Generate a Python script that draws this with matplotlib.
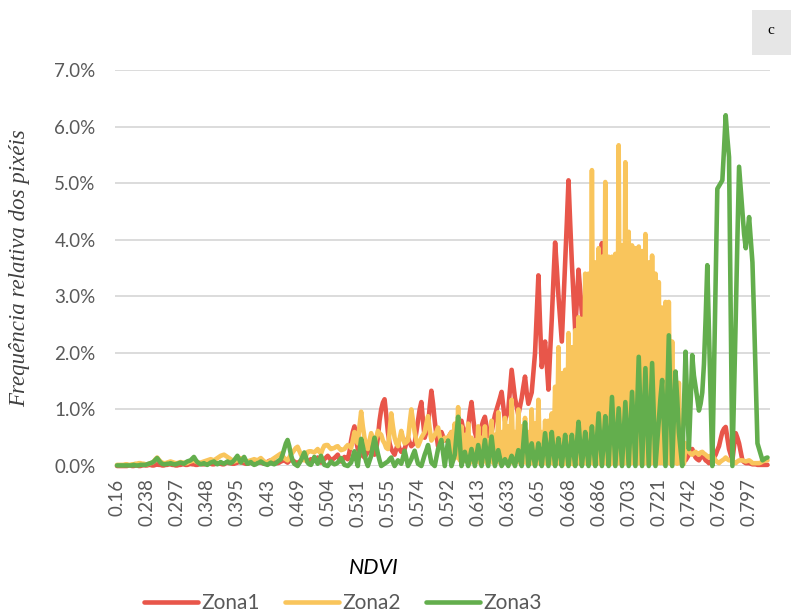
import matplotlib
matplotlib.use("Agg")
import matplotlib.pyplot as plt
from matplotlib.ticker import FuncFormatter
from matplotlib.patches import Rectangle

# NDVI category labels shown on the axis (one every 18 categories)
ndvi_ticks = ["0.16", "0.238", "0.297", "0.348", "0.395", "0.43", "0.469", "0.504",
              "0.531", "0.555", "0.574", "0.592", "0.613", "0.633", "0.65", "0.668",
              "0.686", "0.703", "0.721", "0.742", "0.766", "0.797"]
tick_step = 18

# relative pixel frequency (%) per NDVI category
zona1 = [
    0.00, 0.00, 0.00, 0.00, 0.00, 0.00, 0.00, 0.01, 0.01, 0.00, 0.00, 0.01, 0.01, 0.00, 0.00, 0.01, 0.02, 0.01, 0.01, 0.02,
    0.02, 0.01, 0.01, 0.02, 0.03, 0.02, 0.02, 0.01, 0.01, 0.02, 0.02, 0.03, 0.03, 0.02, 0.02, 0.01, 0.01, 0.02, 0.02, 0.03,
    0.03, 0.02, 0.02, 0.03, 0.04, 0.03, 0.03, 0.02, 0.02, 0.03, 0.04, 0.03, 0.03, 0.04, 0.05, 0.04, 0.04, 0.03, 0.03, 0.04,
    0.05, 0.04, 0.04, 0.03, 0.03, 0.05, 0.06, 0.05, 0.05, 0.04, 0.04, 0.05, 0.06, 0.07, 0.08, 0.06, 0.05, 0.04, 0.04, 0.05,
    0.06, 0.05, 0.05, 0.06, 0.08, 0.07, 0.06, 0.05, 0.04, 0.05, 0.07, 0.09, 0.10, 0.08, 0.06, 0.05, 0.05, 0.06, 0.08, 0.09,
    0.10, 0.08, 0.06, 0.09, 0.12, 0.10, 0.08, 0.06, 0.05, 0.07, 0.10, 0.12, 0.14, 0.10, 0.08, 0.10, 0.12, 0.11, 0.10, 0.12,
    0.15, 0.10, 0.06, 0.09, 0.12, 0.15, 0.18, 0.14, 0.10, 0.12, 0.14, 0.17, 0.20, 0.12, 0.08, 0.12, 0.16, 0.14, 0.12, 0.25,
    0.45, 0.60, 0.70, 0.45, 0.30, 0.25, 0.20, 0.18, 0.15, 0.20, 0.25, 0.30, 0.35, 0.25, 0.20, 0.30, 0.50, 0.80, 1.00, 1.12,
    1.18, 0.90, 0.60, 0.40, 0.30, 0.25, 0.20, 0.30, 0.40, 0.30, 0.25, 0.28, 0.30, 0.40, 0.50, 0.42, 0.35, 0.38, 0.40, 0.60,
    0.80, 1.00, 1.13, 0.80, 0.50, 0.60, 0.70, 1.05, 1.33, 1.10, 0.80, 0.55, 0.35, 0.45, 0.60, 0.52, 0.45, 0.48, 0.50, 0.55,
    0.60, 0.55, 0.50, 0.60, 0.70, 0.75, 0.80, 0.65, 0.50, 0.60, 0.70, 0.95, 1.13, 0.85, 0.60, 0.50, 0.40, 0.55, 0.70, 0.80,
    0.87, 0.70, 0.50, 0.55, 0.60, 0.75, 0.90, 1.00, 1.10, 1.20, 1.31, 1.05, 0.80, 0.90, 1.00, 1.35, 1.70, 1.45, 1.20, 1.05,
    0.90, 1.05, 1.20, 1.40, 1.58, 1.30, 1.10, 1.20, 1.30, 1.65, 2.00, 2.70, 3.37, 2.50, 1.75, 2.00, 2.20, 1.80, 1.35, 2.00,
    2.60, 3.30, 3.95, 3.50, 3.00, 2.60, 2.20, 2.90, 3.60, 4.30, 5.05, 4.30, 3.60, 3.00, 2.40, 2.90, 3.47, 3.10, 2.70, 2.55,
    2.40, 2.30, 2.20, 2.40, 2.60, 2.80, 3.00, 3.25, 3.50, 3.70, 3.94, 3.50, 3.00, 2.75, 2.50, 2.65, 2.80, 2.70, 2.60, 2.45,
    2.30, 2.15, 2.00, 2.10, 2.20, 2.00, 1.80, 1.70, 1.60, 1.55, 1.50, 1.40, 1.30, 1.25, 1.20, 1.10, 1.00, 0.95, 0.90, 0.75,
    0.60, 0.50, 0.40, 0.35, 0.30, 0.25, 0.20, 0.22, 0.25, 0.20, 0.15, 0.18, 0.20, 0.15, 0.10, 0.18, 0.25, 0.20, 0.15, 0.12,
    0.10, 0.15, 0.20, 0.25, 0.30, 0.22, 0.15, 0.12, 0.10, 0.15, 0.20, 0.15, 0.10, 0.08, 0.05, 0.08, 0.10, 0.15, 0.20, 0.28,
    0.35, 0.48, 0.60, 0.66, 0.69, 0.50, 0.30, 0.20, 0.10, 0.35, 0.58, 0.50, 0.40, 0.25, 0.10, 0.07, 0.05, 0.05, 0.05, 0.04,
    0.03, 0.03, 0.03, 0.02, 0.02, 0.02, 0.02, 0.02, 0.02, 0.02,
]
zona2 = [
    0.02, 0.02, 0.02, 0.02, 0.02, 0.03, 0.03, 0.02, 0.02, 0.03, 0.03, 0.04, 0.04, 0.05, 0.05, 0.04, 0.04, 0.03, 0.03, 0.04,
    0.05, 0.06, 0.08, 0.12, 0.15, 0.11, 0.08, 0.06, 0.05, 0.05, 0.06, 0.07, 0.08, 0.07, 0.06, 0.05, 0.05, 0.06, 0.07, 0.06,
    0.06, 0.05, 0.05, 0.07, 0.08, 0.09, 0.10, 0.08, 0.07, 0.06, 0.06, 0.07, 0.08, 0.09, 0.10, 0.11, 0.12, 0.11, 0.10, 0.12,
    0.14, 0.16, 0.18, 0.19, 0.20, 0.18, 0.16, 0.14, 0.12, 0.10, 0.08, 0.09, 0.10, 0.12, 0.14, 0.12, 0.10, 0.09, 0.08, 0.09,
    0.10, 0.11, 0.12, 0.11, 0.10, 0.12, 0.14, 0.11, 0.08, 0.07, 0.06, 0.08, 0.10, 0.12, 0.14, 0.16, 0.18, 0.20, 0.22, 0.18,
    0.14, 0.12, 0.10, 0.15, 0.20, 0.24, 0.28, 0.32, 0.34, 0.27, 0.20, 0.14, 0.10, 0.18, 0.25, 0.26, 0.26, 0.25, 0.24, 0.27,
    0.30, 0.25, 0.22, 0.30, 0.36, 0.37, 0.37, 0.33, 0.30, 0.31, 0.32, 0.34, 0.35, 0.31, 0.28, 0.29, 0.30, 0.34, 0.37, 0.35,
    0.32, 0.45, 0.60, 0.45, 0.40, 0.70, 0.96, 0.70, 0.50, 0.35, 0.30, 0.45, 0.58, 0.45, 0.40, 0.50, 0.62, 0.58, 0.55, 0.45,
    0.40, 0.32, 0.30, 0.60, 0.93, 0.70, 0.50, 0.40, 0.35, 0.48, 0.62, 0.50, 0.40, 0.42, 0.45, 0.75, 1.00, 0.80, 0.60, 0.45,
    0.35, 0.42, 0.50, 0.55, 0.60, 0.75, 0.88, 0.65, 0.45, 0.50, 0.55, 0.60, 0.68, 0.52, 0.40, 0.45, 0.50, 0.48, 0.50, 0.55,
    0.60, 0.10, 0.75, 0.15, 1.04, 0.10, 0.70, 0.08, 0.55, 0.12, 0.75, 0.05, 0.50, 0.10, 0.45, 0.08, 0.70, 0.05, 0.50, 0.10,
    0.70, 0.05, 0.45, 0.10, 0.80, 0.05, 0.55, 0.08, 0.95, 0.05, 0.60, 0.10, 0.85, 0.05, 0.70, 0.06, 1.17, 0.05, 0.60, 0.08,
    1.00, 0.05, 0.70, 0.06, 0.85, 0.05, 0.60, 0.04, 1.00, 0.05, 0.75, 0.06, 1.17, 0.04, 0.60, 0.05, 0.80, 0.04, 0.80, 0.05,
    0.93, 0.04, 1.40, 0.05, 2.10, 0.04, 1.64, 0.03, 1.70, 0.05, 2.35, 0.04, 2.10, 0.03, 2.40, 0.05, 2.63, 0.04, 2.60, 0.05,
    3.40, 0.04, 3.40, 0.05, 5.23, 0.04, 3.60, 0.05, 3.85, 0.04, 3.70, 0.05, 5.02, 0.04, 3.70, 0.03, 3.70, 0.05, 3.75, 0.04,
    5.67, 0.05, 3.90, 0.04, 5.37, 0.05, 4.14, 0.04, 3.90, 0.05, 3.85, 0.04, 3.88, 0.05, 3.80, 0.04, 4.10, 0.05, 3.60, 0.04,
    3.72, 0.05, 3.40, 0.04, 3.25, 0.05, 2.80, 0.04, 2.90, 0.05, 2.90, 0.04, 2.20, 0.05, 1.60, 0.04, 1.47, 0.05, 0.80, 0.04,
    0.40, 0.30, 0.25, 0.22, 0.20, 0.23, 0.25, 0.22, 0.20, 0.24, 0.25, 0.22, 0.20, 0.17, 0.15, 0.18, 0.20, 0.14, 0.10, 0.07,
    0.05, 0.08, 0.10, 0.12, 0.15, 0.12, 0.10, 0.10, 0.10, 0.07, 0.05, 0.08, 0.10, 0.10, 0.10, 0.09, 0.08, 0.09, 0.10, 0.08,
    0.05, 0.05, 0.05, 0.05, 0.05, 0.06, 0.08, 0.09, 0.10, 0.10,
]
zona3 = [
    0.01, 0.01, 0.01, 0.01, 0.01, 0.01, 0.01, 0.01, 0.01, 0.01, 0.02, 0.01, 0.01, 0.01, 0.02, 0.02, 0.02, 0.02, 0.03, 0.04,
    0.05, 0.06, 0.08, 0.11, 0.14, 0.10, 0.06, 0.04, 0.03, 0.03, 0.04, 0.04, 0.05, 0.04, 0.03, 0.03, 0.04, 0.05, 0.06, 0.05,
    0.04, 0.06, 0.08, 0.09, 0.10, 0.13, 0.16, 0.11, 0.07, 0.05, 0.03, 0.04, 0.05, 0.03, 0.02, 0.04, 0.06, 0.07, 0.08, 0.05,
    0.03, 0.05, 0.07, 0.05, 0.04, 0.06, 0.08, 0.06, 0.05, 0.07, 0.10, 0.14, 0.18, 0.12, 0.06, 0.11, 0.16, 0.10, 0.04, 0.05,
    0.07, 0.04, 0.02, 0.03, 0.05, 0.06, 0.08, 0.06, 0.04, 0.03, 0.02, 0.04, 0.06, 0.04, 0.03, 0.05, 0.08, 0.10, 0.12, 0.20,
    0.30, 0.40, 0.46, 0.35, 0.20, 0.10, 0.04, 0.02, 0.00, 0.05, 0.10, 0.17, 0.24, 0.15, 0.06, 0.03, 0.02, 0.08, 0.16, 0.10,
    0.04, 0.10, 0.18, 0.10, 0.02, 0.01, 0.00, 0.04, 0.08, 0.05, 0.03, 0.04, 0.06, 0.10, 0.14, 0.08, 0.02, 0.01, 0.00, 0.03,
    0.06, 0.16, 0.26, 0.12, 0.00, 0.25, 0.48, 0.35, 0.20, 0.08, 0.00, 0.09, 0.18, 0.35, 0.50, 0.36, 0.22, 0.10, 0.00, 0.02,
    0.04, 0.06, 0.08, 0.12, 0.15, 0.07, 0.00, 0.05, 0.10, 0.07, 0.04, 0.15, 0.27, 0.14, 0.00, 0.06, 0.12, 0.20, 0.27, 0.15,
    0.04, 0.02, 0.00, 0.10, 0.20, 0.28, 0.37, 0.22, 0.06, 0.03, 0.00, 0.15, 0.30, 0.38, 0.46, 0.23, 0.00, 0.22, 0.45, 0.22,
    0.00, 0.10, 0.20, 0.55, 0.87, 0.43, 0.00, 0.12, 0.25, 0.12, 0.00, 0.15, 0.30, 0.15, 0.00, 0.18, 0.37, 0.18, 0.00, 0.23,
    0.46, 0.23, 0.00, 0.26, 0.52, 0.26, 0.00, 0.14, 0.28, 0.14, 0.00, 0.06, 0.12, 0.06, 0.00, 0.09, 0.18, 0.09, 0.00, 0.14,
    0.28, 0.12, 0.00, 0.40, 0.77, 0.36, 0.00, 0.22, 0.40, 0.18, 0.00, 0.20, 0.40, 0.19, 0.00, 0.30, 0.58, 0.28, 0.00, 0.31,
    0.60, 0.28, 0.00, 0.26, 0.49, 0.23, 0.00, 0.29, 0.55, 0.26, 0.00, 0.28, 0.55, 0.26, 0.00, 0.40, 0.78, 0.37, 0.00, 0.31,
    0.60, 0.28, 0.00, 0.36, 0.70, 0.33, 0.00, 0.48, 0.93, 0.45, 0.00, 0.45, 0.88, 0.42, 0.00, 0.62, 1.22, 0.60, 0.00, 0.52,
    1.02, 0.50, 0.00, 0.58, 1.13, 0.55, 0.00, 0.66, 1.31, 0.64, 0.00, 0.98, 1.93, 0.95, 0.00, 0.88, 1.73, 0.85, 0.00, 0.92,
    1.82, 0.90, 0.00, 0.40, 0.80, 1.20, 1.52, 0.75, 0.00, 1.15, 2.31, 1.15, 0.00, 0.85, 1.67, 1.20, 0.60, 0.30, 0.00, 1.00,
    2.02, 1.10, 0.30, 1.10, 1.96, 1.60, 1.40, 1.20, 0.98, 1.10, 1.30, 1.80, 2.60, 3.55, 2.40, 1.20, 0.00, 1.60, 3.20, 4.90,
    4.95, 5.00, 5.05, 5.60, 6.20, 5.80, 5.46, 2.70, 0.00, 1.30, 2.60, 4.00, 5.29, 4.90, 4.50, 4.10, 3.85, 4.10, 4.40, 4.00,
    3.60, 2.60, 1.50, 0.40, 0.30, 0.20, 0.10, 0.12, 0.14, 0.15,
]

series_names = ["Zona1", "Zona2", "Zona3"]
series_colors = ["#E8564A", "#F9C55C", "#63AE4D"]

plt.rcParams["font.family"] = ["Lato", "DejaVu Sans"]
gray = "#595959"

fig = plt.figure(figsize=(7.91, 6.15), dpi=100)
ax = fig.add_axes([115 / 791, 1 - 466 / 615, 655 / 791, 396 / 615])

n = len(zona1)
for vals, col, name in zip([zona1, zona2, zona3], series_colors, series_names):
    ax.plot(range(len(vals)), vals, color=col, lw=3.3, label=name, clip_on=False,
            solid_joinstyle="round", solid_capstyle="round")

ax.set_ylim(0, 7)
ax.set_xlim(-1.2, n + 0.5)
ax.set_yticks(range(8))
ax.yaxis.set_major_formatter(FuncFormatter(lambda v, p: "%.1f%%" % v))
ax.set_xticks(range(0, tick_step * len(ndvi_ticks), tick_step))
ax.set_xticklabels(ndvi_ticks, rotation=90)
ax.grid(axis="y", color="#D9D9D9", lw=1.3)
ax.set_axisbelow(True)
for s in ax.spines.values():
    s.set_visible(False)
ax.tick_params(axis="both", length=0, colors=gray, labelsize=13.5)
ax.tick_params(axis="y", pad=14)
ax.tick_params(axis="x", pad=9)

fig.text(20 / 791, 1 - 268 / 615, "Frequência relativa dos pixéis", rotation=90,
         ha="center", va="center", fontsize=16.5, style="italic",
         family="Liberation Serif", color="#404040")
fig.text(374 / 791, 1 - 568 / 615, "NDVI", ha="center", va="center",
         fontsize=15.5, style="italic", color="black")

fig.legend(loc="center", bbox_to_anchor=(343 / 791, 1 - 603 / 615), ncol=3,
           frameon=False, fontsize=15, handlelength=2.6, handletextpad=0.15,
           columnspacing=1.2, labelcolor=gray, borderaxespad=0)

fig.patches.append(Rectangle((752 / 791, 1 - 55 / 615), 39 / 791, 45 / 615,
                             transform=fig.transFigure, facecolor="#E6E6E6",
                             edgecolor="none"))
fig.text(771 / 791, 1 - 31 / 615, "c", ha="center", va="center", fontsize=11,
         family="Liberation Serif", color="black")

fig.savefig("out.png", dpi=100)
